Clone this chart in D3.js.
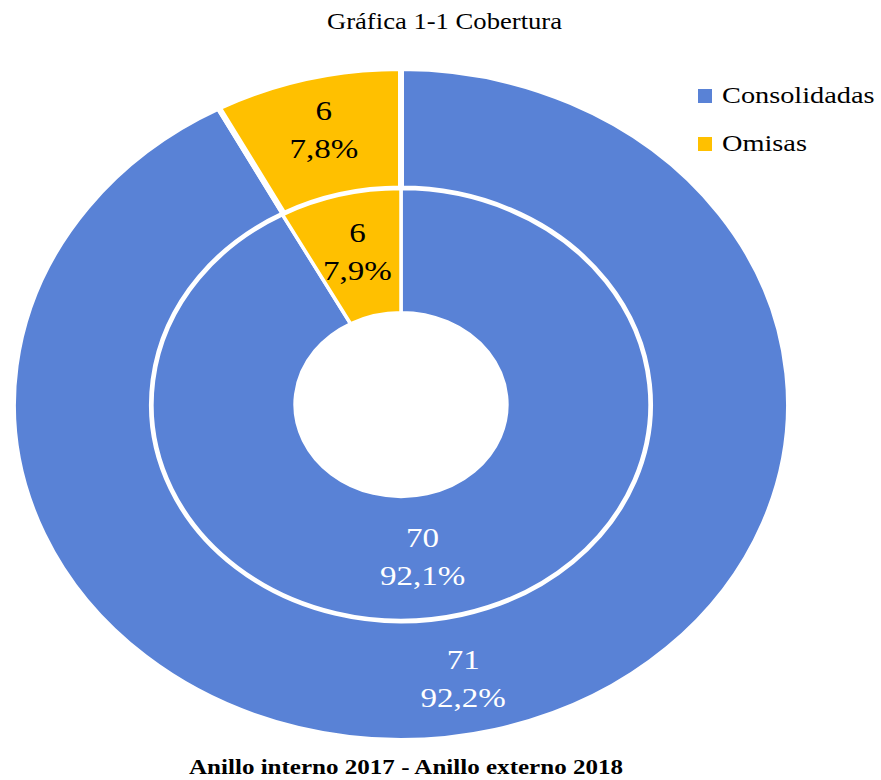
<!DOCTYPE html>
<html>
<head>
<meta charset="utf-8">
<script src="https://cdn.jsdelivr.net/npm/d3@7"></script>
<style>
  body { margin: 0; background: #fff; }
  svg { display: block; }
  text { font-family: "Liberation Serif", "Times New Roman", serif; }
</style>
</head>
<body>
<svg id="chart" width="881" height="780"></svg>
<script>
const categories = ["Consolidadas", "Omisas"];
const values2017 = [70, 6];   // anillo interno
const values2018 = [71, 6];   // anillo externo
const colors = ["#5982D6", "#FFC000"];
const labelColors = ["#ffffff", "#000000"];

const svg = d3.select("#chart");
const cx = 401, cy = 404.5;
const yScale = 0.867;          // the doughnut is drawn a bit squashed
const stretch = 1.18;          // text is wider than normal Times

const radius = d3.scaleLinear().domain([0, 1]).range([0, 388]);

const pie = d3.pie().sort(null).value(d => d);
const fmtPct = v => d3.format(".1%")(v).replace(".", ",");

// small nudges off the centroid, the way the original labels sit
const rings = [
  { values: values2018, inner: radius(0.6418), outer: radius(1), stroke: 6,
    nudge: [[-15, 5], [0, -9]] },
  { values: values2017, inner: radius(0.273), outer: radius(0.6418), stroke: 3.5,
    nudge: [[-22, 1], [0, -5]] }
];

const donut = svg.append("g")
  .attr("transform", `translate(${cx},${cy}) scale(1,${yScale})`);

rings.forEach(ring => {
  const arc = d3.arc().innerRadius(ring.inner).outerRadius(ring.outer);
  const total = d3.sum(ring.values);
  const arcs = pie(ring.values);

  donut.append("g").selectAll("path")
    .data(arcs)
    .enter().append("path")
    .attr("d", arc)
    .attr("fill", (d, i) => colors[i])
    .attr("stroke", "#fff")
    .attr("stroke-width", ring.stroke)
    .attr("vector-effect", "non-scaling-stroke");

  arcs.forEach((d, i) => {
    const [x, y] = arc.centroid(d);
    const lx = cx + x + ring.nudge[i][0], ly = cy + y * yScale + ring.nudge[i][1];
    const lbl = svg.append("text")
      .attr("transform", `translate(${lx},${ly}) scale(${stretch},1)`)
      .attr("text-anchor", "middle")
      .attr("fill", labelColors[i])
      .style("font-size", "28px");
    lbl.append("tspan").attr("x", 0).attr("y", -8).text(d.data);
    lbl.append("tspan").attr("x", 0).attr("y", 30).text(fmtPct(d.data / total));
  });
});

// title
svg.append("text")
  .attr("transform", `translate(444.5,29) scale(1.11,1)`)
  .attr("text-anchor", "middle")
  .style("font-size", "24px")
  .text("Gráfica 1-1 Cobertura");

// legend
const legend = svg.append("g").attr("transform", "translate(698,89)");
categories.forEach((c, i) => {
  const g = legend.append("g").attr("transform", `translate(0,${i * 48})`);
  g.append("rect").attr("width", 14).attr("height", 14).attr("fill", colors[i]);
  g.append("text")
    .attr("transform", `translate(24,14) scale(${stretch},1)`)
    .style("font-size", "24px")
    .text(c);
});

// footer
svg.append("text")
  .attr("x", 406).attr("y", 774)
  .attr("text-anchor", "middle")
  .attr("textLength", 434)
  .attr("lengthAdjust", "spacingAndGlyphs")
  .style("font-size", "20px")
  .style("font-weight", "bold")
  .text("Anillo  interno  2017 - Anillo  externo 2018");
</script>
</body>
</html>
